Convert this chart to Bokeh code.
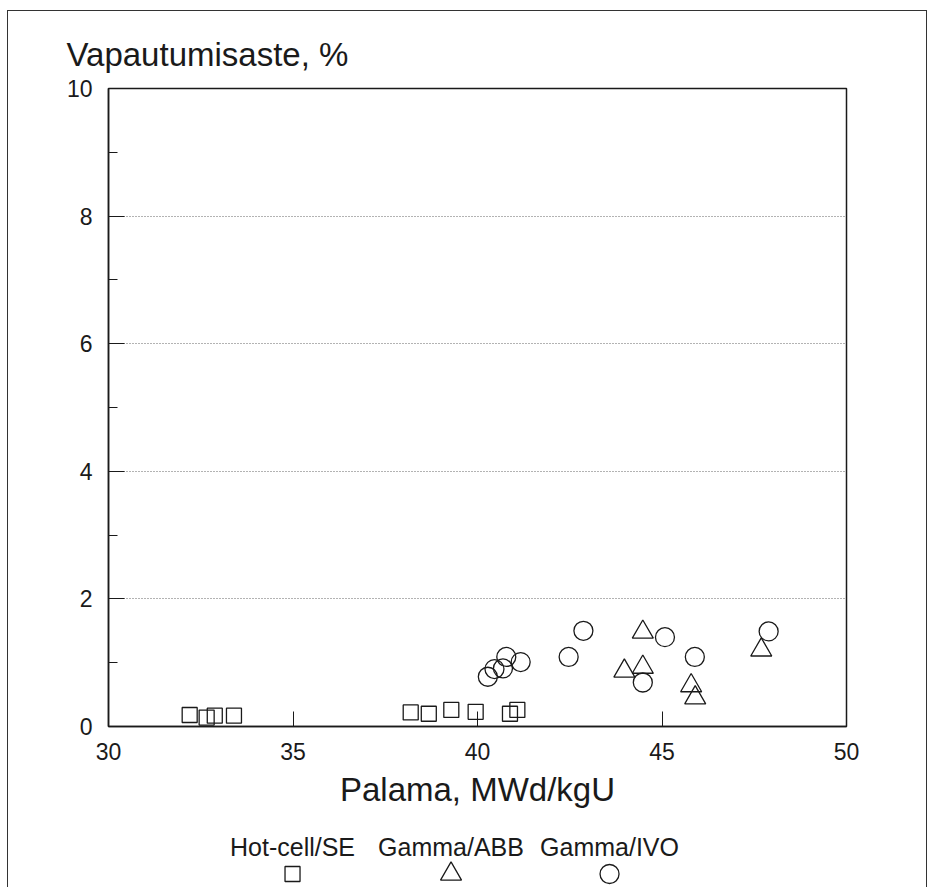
from bokeh.plotting import figure
from bokeh.models import Range1d, FixedTicker, Title, ColumnDataSource
from bokeh.layouts import column
from bokeh.embed import file_html
from bokeh.resources import INLINE

# ---- data ----
hot_x = [32.2, 32.66, 32.88, 33.4, 38.19, 38.68, 39.29, 39.95, 40.88, 41.08]
hot_y = [0.18, 0.14, 0.17, 0.17, 0.22, 0.20, 0.26, 0.23, 0.20, 0.26]

abb_x = [44.48, 43.98, 44.48, 45.79, 45.90, 47.69]
abb_y = [1.48, 0.87, 0.93, 0.64, 0.45, 1.20]

ivo_x = [40.28, 40.46, 40.69, 40.78, 41.17, 42.47, 42.87, 45.08, 44.48, 45.89, 47.89]
ivo_y = [0.78, 0.90, 0.91, 1.09, 1.01, 1.09, 1.50, 1.40, 0.69, 1.09, 1.49]

x_ticks = [30, 35, 40, 45, 50]
y_ticks = [0, 2, 4, 6, 8, 10]
y_minor = [1, 3, 5, 7, 9]

legend_labels = ["Hot-cell/SE", "Gamma/ABB", "Gamma/IVO"]
legend_markers = ["square", "triangle", "circle"]
legend_sizes = [15, 21, 19]

FONT = "Liberation Sans"
INK = "#1a1a1a"

title = Title(text="Vapautumisaste, %", align="left", offset=-42,
              text_font_size="33px", text_font=FONT, text_font_style="normal",
              text_color=INK, standoff=32)

p = figure(width=918, height=811, x_range=Range1d(30, 50), y_range=Range1d(0, 10),
           output_backend="svg", toolbar_location=None, title=title,
           min_border_left=100, min_border_right=80, min_border_top=77,
           min_border_bottom=96)

p.outline_line_color = INK
p.outline_line_width = 1.5
p.background_fill_color = "white"
p.border_fill_color = "white"

# x axis
p.xaxis.ticker = FixedTicker(ticks=x_ticks, minor_ticks=[])
p.xaxis.axis_label = "Palama, MWd/kgU"
p.xaxis.axis_label_text_font = FONT
p.xaxis.axis_label_text_font_size = "33px"
p.xaxis.axis_label_text_font_style = "normal"
p.xaxis.axis_label_text_color = INK
p.xaxis.axis_label_standoff = 8
p.xaxis.major_label_text_font = FONT
p.xaxis.major_label_text_font_size = "23px"
p.xaxis.major_label_text_color = INK
p.xaxis.major_label_standoff = 16
p.xaxis.major_tick_in = 15
p.xaxis.major_tick_out = 0
p.xaxis.minor_tick_in = 0
p.xaxis.minor_tick_out = 0
p.xaxis.axis_line_color = INK
p.xaxis.axis_line_width = 1.5
p.xaxis.major_tick_line_color = INK

# y axis
p.yaxis.ticker = FixedTicker(ticks=y_ticks, minor_ticks=y_minor)
p.yaxis.major_label_text_font = FONT
p.yaxis.major_label_text_font_size = "23px"
p.yaxis.major_label_text_color = INK
p.yaxis.major_label_standoff = 16
p.yaxis.major_tick_in = 16
p.yaxis.major_tick_out = 0
p.yaxis.minor_tick_in = 9
p.yaxis.minor_tick_out = 0
p.yaxis.axis_line_color = INK
p.yaxis.axis_line_width = 1.5
p.yaxis.major_tick_line_color = INK
p.yaxis.minor_tick_line_color = INK

# grid
p.xgrid.visible = False
p.ygrid.ticker = FixedTicker(ticks=y_ticks[1:-1])
p.ygrid.grid_line_color = "#666666"
p.ygrid.grid_line_dash = "1 2"
p.ygrid.grid_line_width = 1

# data markers (open symbols)
p.scatter(hot_x, hot_y, marker="square", size=15, fill_color=None,
          line_color=INK, line_width=1.3)
p.scatter(abb_x, abb_y, marker="triangle", size=21, fill_color=None,
          line_color=INK, line_width=1.3)
p.scatter(ivo_x, ivo_y, marker="circle", size=19, fill_color=None,
          line_color=INK, line_width=1.3)

# legend strip below (labels above their symbols)
leg = figure(width=918, height=65, x_range=Range1d(-1.161, 3.495), y_range=Range1d(-13.5, 51.5),
             output_backend="svg", toolbar_location=None,
             x_axis_type=None, y_axis_type=None, min_border=0)
leg.outline_line_color = None
leg.grid.visible = False
leg.background_fill_color = "white"
leg.border_fill_color = "white"
src = ColumnDataSource(dict(x=list(range(len(legend_labels))), y=[0] * len(legend_labels),
                            label=legend_labels, marker=legend_markers, size=legend_sizes))
leg.scatter(x="x", y="y", marker="marker", size="size", source=src, fill_color=None,
            line_color=INK, line_width=1.3)
leg.text(x="x", y="y", text="label", source=src, y_offset=-27,
         text_align="center", text_baseline="middle", text_font_size="25px",
         text_font={"value": FONT}, text_color=INK)

layout = column(p, leg, margin=(10, 0, 0, 7),
                styles={"border-left": "1.5px solid #333", "border-top": "1.5px solid #333",
                        "border-right": "1.5px solid #333"})

open("out.html", "w").write(file_html(layout, INLINE))
